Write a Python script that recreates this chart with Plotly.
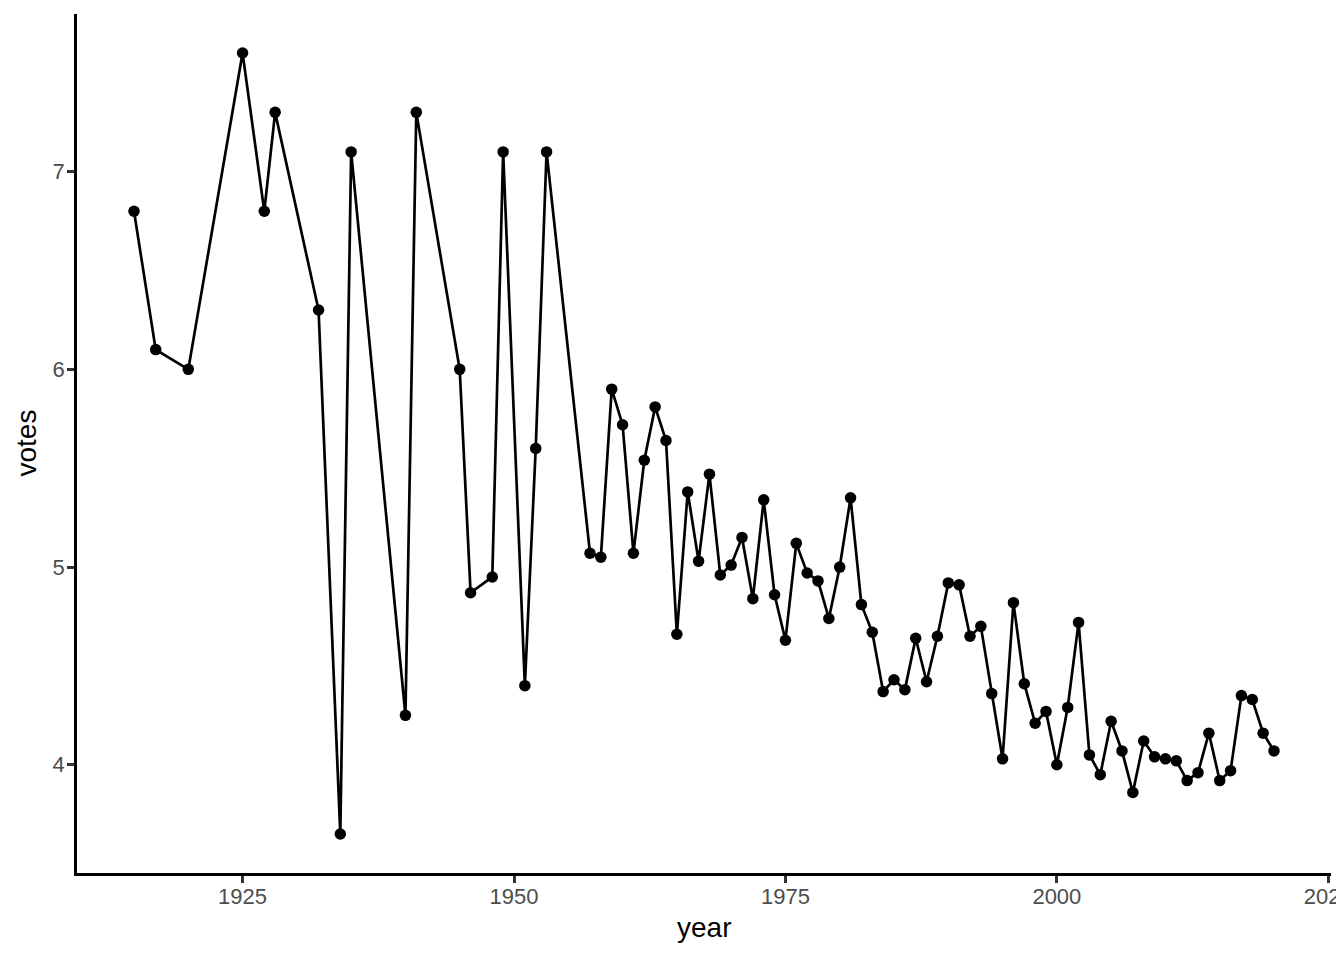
import plotly.graph_objects as go

years = [1915, 1917, 1920, 1925, 1927, 1928, 1932, 1934, 1935, 1940, 1941, 1945, 1946, 1948,
         1949, 1951, 1952, 1953, 1957, 1958, 1959, 1960, 1961, 1962, 1963, 1964, 1965, 1966,
         1967, 1968, 1969, 1970, 1971, 1972, 1973, 1974, 1975, 1976, 1977, 1978, 1979, 1980,
         1981, 1982, 1983, 1984, 1985, 1986, 1987, 1988, 1989, 1990, 1991, 1992, 1993, 1994,
         1995, 1996, 1997, 1998, 1999, 2000, 2001, 2002, 2003, 2004, 2005, 2006, 2007, 2008,
         2009, 2010, 2011, 2012, 2013, 2014, 2015, 2016, 2017, 2018, 2019, 2020]
votes = [6.80, 6.10, 6.00, 7.60, 6.80, 7.30, 6.30, 3.65, 7.10, 4.25, 7.30, 6.00, 4.87, 4.95,
         7.10, 4.40, 5.60, 7.10, 5.07, 5.05, 5.90, 5.72, 5.07, 5.54, 5.81, 5.64, 4.66, 5.38,
         5.03, 5.47, 4.96, 5.01, 5.15, 4.84, 5.34, 4.86, 4.63, 5.12, 4.97, 4.93, 4.74, 5.00,
         5.35, 4.81, 4.67, 4.37, 4.43, 4.38, 4.64, 4.42, 4.65, 4.92, 4.91, 4.65, 4.70, 4.36,
         4.03, 4.82, 4.41, 4.21, 4.27, 4.00, 4.29, 4.72, 4.05, 3.95, 4.22, 4.07, 3.86, 4.12,
         4.04, 4.03, 4.02, 3.92, 3.96, 4.16, 3.92, 3.97, 4.35, 4.33, 4.16, 4.07]

x_ticks = [1925, 1950, 1975, 2000, 2025]
y_ticks = [4, 5, 6, 7]

fig = go.Figure()
fig.add_trace(go.Scatter(
    x=years, y=votes, mode="lines+markers",
    line=dict(color="black", width=2.7),
    marker=dict(color="black", size=11.5),
    showlegend=False,
))

font_family = "Liberation Sans, Arial, sans-serif"
axis_common = dict(
    showgrid=False, zeroline=False, automargin=False,
    showline=True, linecolor="black", linewidth=2.7,
    ticks="outside", ticklen=7, tickwidth=2.7, tickcolor="#333333",
    tickfont=dict(family=font_family, size=22, color="#4D4D4D"),
    ticklabeloverflow="allow",
)

fig.update_layout(
    template="none",
    width=1336, height=952,
    margin=dict(l=69, r=13, t=6, b=87),
    paper_bgcolor="white", plot_bgcolor="white",
    font=dict(family=font_family),
    xaxis=dict(range=[1909.75, 2025.25], tickvals=x_ticks,
               ticktext=[str(v) for v in x_ticks], ticklabelstandoff=-5,
               **axis_common),
    yaxis=dict(range=[3.4525, 7.7975], tickvals=y_ticks,
               ticktext=[str(v) for v in y_ticks], ticklabelstandoff=-2,
               **axis_common),
    annotations=[
        dict(text="year", xref="paper", yref="paper", x=0.5, y=0,
             yshift=-54, showarrow=False, yanchor="middle",
             font=dict(family=font_family, size=28, color="black")),
        dict(text="votes", xref="paper", yref="paper", x=0, y=0.5,
             xshift=-51, showarrow=False, textangle=-90, xanchor="center",
             font=dict(family=font_family, size=28, color="black")),
    ],
)

fig.write_html("out.html")
